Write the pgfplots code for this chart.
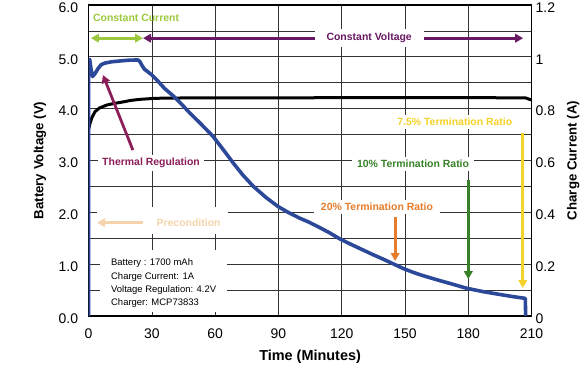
\documentclass[border=0pt]{standalone}
\usepackage{fontspec}
\setmainfont{Liberation Sans}
\usepackage{pgfplots}
\pgfplotsset{compat=1.18}
\usetikzlibrary{arrows.meta}
\definecolor{cblue}{RGB}{44,72,152}
\definecolor{ccgreen}{RGB}{155,200,60}
\definecolor{cpurple}{RGB}{105,25,100}
\definecolor{cthermal}{RGB}{140,30,90}
\definecolor{cprecond}{RGB}{245,212,172}
\definecolor{cyellow}{RGB}{245,210,40}
\definecolor{cgreen}{RGB}{55,130,40}
\definecolor{corange}{RGB}{230,125,45}
\tikzset{ann/.style={font=\bfseries\fontsize{10.5}{12}\selectfont},
  arr/.style={line width=2.8bp,-{Triangle[length=8bp,width=8.5bp]}}}
\begin{document}
\begin{tikzpicture}
\useasboundingbox (-88.6bp,-57bp) rectangle (496.4bp,316bp);
\begin{axis}[
  scale only axis, width=443bp, height=311bp,
  xmin=0, xmax=210, ymin=0, ymax=6,
  xtick={0,30,...,210}, ytick={0,1,...,6},
  minor ytick={0.5,1.5,...,5.5},
  y tick label style={/pgf/number format/fixed, /pgf/number format/fixed zerofill, /pgf/number format/precision=1},
  /pgf/number format/assume math mode=true,
  grid=both,
  major grid style={black!80, line width=0.75pt},
  minor grid style={black!80, line width=0.75pt},
  tick style={draw=none},
  tick label style={font=\fontsize{14}{16}\selectfont},
  xticklabel style={yshift=-9bp},
  yticklabel style={xshift=-7bp, yshift=-2.5bp},
  axis line style={line width=1.4pt},
  xlabel={Time (Minutes)}, ylabel={Battery Voltage (V)},
  xlabel style={font=\bfseries\fontsize{14.5}{17}\selectfont, at={(axis description cs:0.5,-0.132)}, anchor=center},
  ylabel style={font=\bfseries\fontsize{13.3}{16}\selectfont, at={(axis description cs:-0.11,0.5)}, anchor=center},
]
\addplot[black, line width=3bp, line join=round] coordinates {
(0,3.6) (0.7,3.72) (1.5,3.82) (3,3.94) (5,4.01) (8.6,4.07) (12,4.1) (16.3,4.13)
(20,4.16) (24.4,4.18) (28,4.19) (32,4.2) (40,4.205) (60,4.21) (100,4.21)
(150,4.215) (200,4.21) (207,4.21) (209,4.18) (210,4.17)};
% white knock-outs
\fill[white] (axis cs:5.5,0.08) rectangle (axis cs:65.7,1.27);
\fill[white] (axis cs:3.8,1.58) rectangle (axis cs:66,2.1);
% info box text
\begin{scope}[every node/.style={anchor=base west, inner sep=0pt, font=\fontsize{9.5}{11}\selectfont}]
\node at (axis cs:10.6,0.977) {Battery : 1700 mAh};
\node at (axis cs:10.6,0.707) {Charge Current: 1A};
\node at (axis cs:10.6,0.456) {Voltage Regulation: 4.2V};
\node at (axis cs:10.6,0.205) {Charger: MCP73833};
\end{scope}
% precondition
\draw[arr, cprecond] (axis cs:25.8,1.80) -- (axis cs:4.0,1.80);
\node[ann, text=cprecond] at (axis cs:47.4,1.80) {Precondition};
% constant current / voltage
\draw[line width=2.8bp, ccgreen, {Triangle[length=8bp,width=8.5bp]}-{Triangle[length=8bp,width=8.5bp]}] (axis cs:1.1,5.36) -- (axis cs:25.8,5.36);
\node[ann, text=ccgreen] at (axis cs:22.5,5.75) {Constant Current};
\draw[line width=2.8bp, cpurple, {Triangle[length=8bp,width=8.5bp]}-{Triangle[length=8bp,width=8.5bp]}] (axis cs:25.8,5.36) -- (axis cs:206,5.36);
\node[ann, text=cpurple, fill=white, inner xsep=12bp, inner ysep=4bp] at (axis cs:133,5.36) {Constant Voltage};
% thermal regulation
\draw[arr, cthermal] (axis cs:21,3.2) -- (axis cs:6.8,4.65);
\node[ann, text=cthermal, fill=white, inner xsep=4bp] at (axis cs:29.6,2.95) {Thermal Regulation};
% termination ratios
\node[ann, text=cyellow, fill=white, inner xsep=5bp] at (axis cs:173.6,3.74) {7.5\% Termination Ratio};
\draw[arr, cyellow] (axis cs:205.8,3.53) -- (axis cs:205.8,0.54);
\node[ann, text=cgreen, fill=white, inner xsep=5bp] at (axis cs:153.8,2.93) {10\% Termination Ratio};
\draw[arr, cgreen] (axis cs:180,2.62) -- (axis cs:180,0.71);
\node[ann, text=corange, fill=white, inner xsep=7bp] at (axis cs:136.7,2.10) {20\% Termination Ratio};
\draw[arr, corange] (axis cs:145.3,1.91) -- (axis cs:145.3,1.06);
\end{axis}
\begin{axis}[
  scale only axis, width=443bp, height=311bp,
  xmin=0, xmax=210, ymin=0, ymax=1.2,
  axis x line=none, axis y line*=right,
  ytick={0,0.2,0.4,0.6,0.8,1,1.2},
  yticklabels={0,0.2,0.4,0.6,0.8,1,1.2},
  tick style={draw=none},
  tick label style={font=\fontsize{14}{16}\selectfont},
  yticklabel style={xshift=0.5bp, yshift=-2.5bp},
  axis line style={line width=1.4pt},
  ylabel={Charge Current (A)},
  ylabel style={font=\bfseries\fontsize{13.3}{16}\selectfont, at={(axis description cs:1.094,0.5)}, anchor=center},
]
\addplot[cblue, line width=3.6bp, line join=round] coordinates {
(0,0) (0,0.988) (0.5,0.99) (1.2,0.95) (1.9,0.924) (3,0.935) (4.5,0.955) (6,0.97)
(7.8,0.976) (11,0.981) (14.9,0.984) (19,0.987) (23.4,0.988) (24.3,0.982)
(25.2,0.968) (26.5,0.952) (28,0.943) (30,0.93) (33,0.905) (36,0.878) (40,0.85)
(44,0.818) (48,0.783) (52.9,0.744) (56,0.718) (59.1,0.692) (64,0.64)
(68.6,0.59) (73,0.545) (78.1,0.50) (84,0.458) (89.9,0.422) (95,0.398)
(100.2,0.377) (104.5,0.362) (108.9,0.344) (114,0.322) (119.2,0.297) (125,0.274)
(130,0.255) (135,0.236) (140,0.218) (145,0.199) (149.2,0.183) (154,0.168)
(158,0.157) (165,0.14) (172,0.124) (179.2,0.107) (187,0.094) (195,0.083)
(201,0.075) (207,0.068) (207.2,0)};
\end{axis}
\end{tikzpicture}
\end{document}
